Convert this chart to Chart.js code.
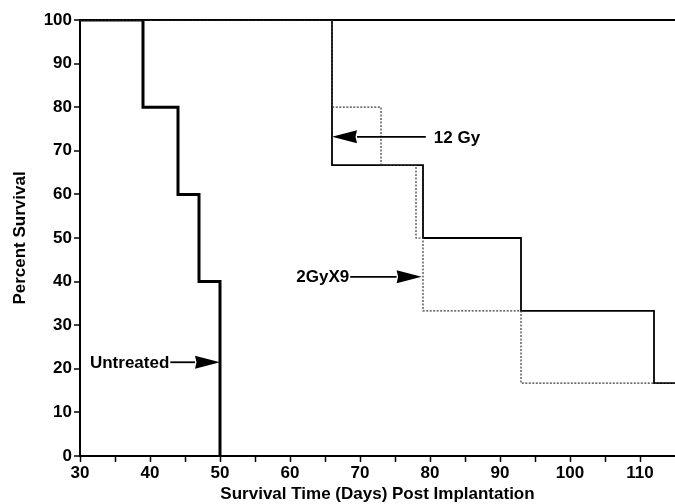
<!DOCTYPE html>
<html>
<head>
<meta charset="utf-8">
<script src="https://cdn.jsdelivr.net/npm/chart.js@4/dist/chart.umd.min.js"></script>
<style>
  html, body { margin: 0; padding: 0; background: #fff; overflow: hidden; }
  #wrap { width: 675px; height: 504px; }
</style>
</head>
<body>
<div id="wrap"><canvas id="survivalChart" width="675" height="504"></canvas></div>
<script>
// survival curves (Kaplan-Meier steps)
const untreatedDays = [30, 39, 44, 47, 50];
const untreatedPct = [100, 80, 60, 40, 0];

const gy12Days = [30, 66, 79, 93, 112, 115];
const gy12Pct = [100, 66.7, 50, 33.3, 16.7, 16.7];

const gy2x9Days = [30, 66, 73, 78, 79, 93, 115];
const gy2x9Pct = [100, 80, 66.7, 50, 33.3, 16.7, 16.7];

// arrow labels on the plot
const noteText = ["Untreated", "12 Gy", "2GyX9"];
const noteTipX = [50, 66, 78.8];
const noteTipY = [21.5, 73.2, 41.1];
const noteTailX = [42.9, 79.4, 68.6];

const FONT = "'Liberation Sans', Arial, Helvetica, sans-serif";

function toPoints(xs, ys) {
  return xs.map((x, i) => ({ x: x, y: ys[i] }));
}

// draws the "label ---->" annotations
const arrowNotes = {
  id: "arrowNotes",
  afterDatasetsDraw(chart) {
    const ctx = chart.ctx;
    const xs = chart.scales.x;
    const ys = chart.scales.y;
    ctx.save();
    ctx.fillStyle = "#000";
    ctx.strokeStyle = "#000";
    ctx.font = "bold 17px " + FONT;
    ctx.textBaseline = "middle";
    for (let i = 0; i < noteText.length; i++) {
      const tipX = xs.getPixelForValue(noteTipX[i]);
      const tailX = xs.getPixelForValue(noteTailX[i]);
      const y = ys.getPixelForValue(noteTipY[i]);
      const dir = tipX > tailX ? 1 : -1;
      const headLen = 25;
      const headHalf = 6.5;
      const baseX = tipX - dir * headLen;

      ctx.lineWidth = 1.8;
      ctx.beginPath();
      ctx.moveTo(tailX, y);
      ctx.lineTo(baseX, y);
      ctx.stroke();

      ctx.beginPath();
      ctx.moveTo(tipX, y);
      ctx.lineTo(baseX, y - headHalf);
      ctx.lineTo(baseX + dir * 1.5, y);
      ctx.lineTo(baseX, y + headHalf);
      ctx.closePath();
      ctx.fill();

      if (dir > 0) {
        ctx.textAlign = "right";
        ctx.fillText(noteText[i], tailX - 1, y + 1);
      } else {
        ctx.textAlign = "left";
        ctx.fillText(noteText[i], tailX + 8, y + 1);
      }
    }
    ctx.restore();
  },
};

const ctx = document.getElementById("survivalChart").getContext("2d");

new Chart(ctx, {
  type: "line",
  data: {
    datasets: [
      {
        label: "2GyX9",
        data: toPoints(gy2x9Days, gy2x9Pct),
        borderColor: "#3a3a3a",
        borderWidth: 1.2,
        borderDash: [2, 1.5],
        stepped: "before",
        pointRadius: 0,
        fill: false,
      },
      {
        label: "12 Gy",
        data: toPoints(gy12Days, gy12Pct),
        borderColor: "#000",
        borderWidth: 1.8,
        stepped: "before",
        pointRadius: 0,
        fill: false,
      },
      {
        label: "Untreated",
        data: toPoints(untreatedDays, untreatedPct),
        borderColor: "#000",
        borderWidth: 3,
        stepped: "before",
        pointRadius: 0,
        fill: false,
      },
    ],
  },
  options: {
    responsive: false,
    animation: false,
    devicePixelRatio: 1,
    layout: { padding: { top: 20, left: 0, right: 0, bottom: 0 } },
    plugins: {
      legend: { display: false },
      tooltip: { enabled: false },
    },
    scales: {
      x: {
        type: "linear",
        min: 30,
        max: 115,
        afterBuildTicks: (scale) => {
          scale.ticks = scale.ticks.filter((t) => t.value < 115);
        },
        afterFit: (scale) => {
          scale.height = 48;
        },
        border: { display: true, color: "#000", width: 2 },
        grid: {
          drawOnChartArea: false,
          drawTicks: true,
          tickLength: 6,
          tickColor: "#000",
          tickWidth: 1.5,
        },
        ticks: {
          stepSize: 5,
          padding: 1,
          color: "#000",
          font: { family: FONT, size: 17, weight: "bold" },
          maxRotation: 0,
          autoSkip: false,
          callback: (v) => (v % 10 === 0 ? String(v) : ""),
        },
        title: {
          display: true,
          text: "Survival Time (Days) Post Implantation",
          color: "#000",
          font: { family: FONT, size: 17, weight: "bold" },
          padding: { top: 0, bottom: -1 },
        },
      },
      y: {
        min: 0,
        max: 100,
        afterFit: (scale) => {
          scale.width = 80;
        },
        border: { display: true, color: "#000", width: 2 },
        grid: {
          drawOnChartArea: true,
          drawTicks: true,
          tickLength: 6,
          tickColor: "#000",
          tickWidth: 1.5,
          color: (c) => (c.tick && c.tick.value === 100 ? "#000" : "rgba(0,0,0,0)"),
          lineWidth: 2,
        },
        ticks: {
          stepSize: 10,
          padding: 2,
          color: "#000",
          font: { family: FONT, size: 17, weight: "bold" },
        },
        title: {
          display: true,
          text: "Percent Survival",
          color: "#000",
          font: { family: FONT, size: 17, weight: "bold" },
          padding: { top: 10, bottom: 0 },
        },
      },
    },
  },
  plugins: [arrowNotes],
});
</script>
</body>
</html>
